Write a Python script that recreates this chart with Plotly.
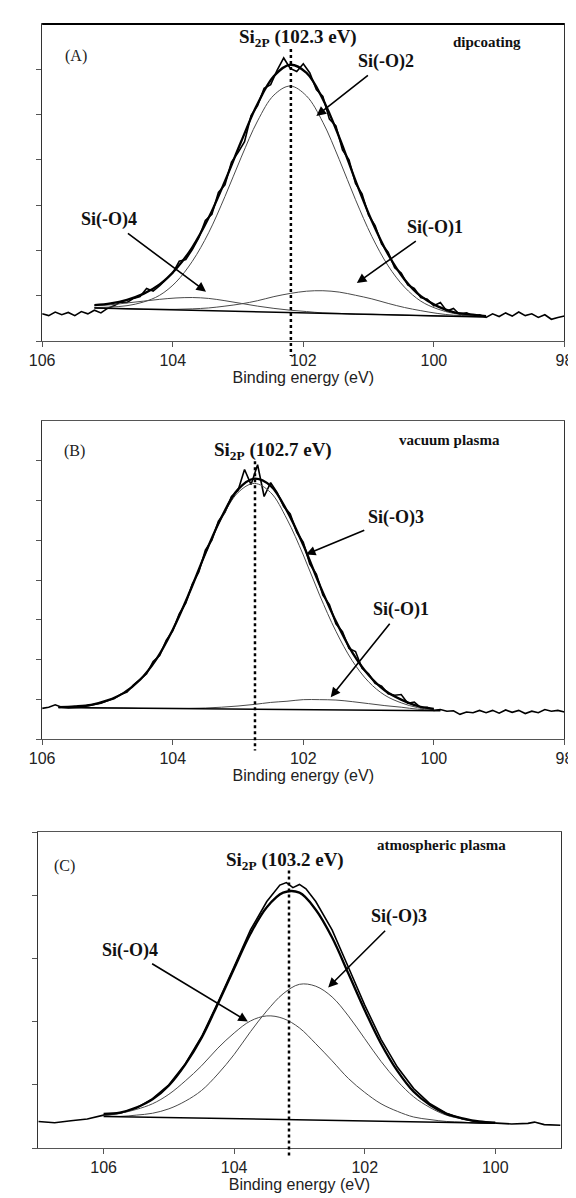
import plotly.graph_objects as go

W, H = 576, 1198

# ---------------- Panel A : dipcoating ----------------
A_grid = [105.2, 104.95, 104.7, 104.45, 104.2, 103.95, 103.7, 103.45, 103.2, 102.95,
          102.7, 102.45, 102.2, 101.95, 101.7, 101.45, 101.2, 100.95, 100.7, 100.45,
          100.2, 99.95, 99.7, 99.45, 99.2]
A_envelope = [0.79, 0.83, 0.91, 1.04, 1.25, 1.59, 2.07, 2.72, 3.53, 4.41,
              5.24, 5.85, 6.10, 5.92, 5.34, 4.50, 3.54, 2.65, 1.91, 1.36,
              0.99, 0.77, 0.64, 0.59, 0.55]
A_si2 = [0.74, 0.75, 0.78, 0.86, 1.01, 1.30, 1.76, 2.39, 3.19, 4.06,
         4.86, 5.43, 5.63, 5.41, 4.83, 4.01, 3.12, 2.31, 1.66, 1.19,
         0.88, 0.71, 0.61, 0.57, 0.54]
A_si4 = [0.78, 0.80, 0.84, 0.88, 0.92, 0.95, 0.96, 0.94, 0.89, 0.83,
         0.77, 0.72, 0.68, 0.65, 0.62, 0.61, 0.59, 0.59, 0.58, 0.57,
         0.56, 0.55, 0.54, 0.54, 0.53]
A_si1 = [0.73, 0.72, 0.71, 0.70, 0.70, 0.70, 0.71, 0.73, 0.77, 0.82,
         0.89, 0.98, 1.05, 1.10, 1.11, 1.08, 1.01, 0.93, 0.83, 0.74,
         0.67, 0.61, 0.57, 0.56, 0.54]
A_base_x = [105.2, 99.2]
A_base_y = [0.73, 0.53]
A_raw = [0.60, 0.56, 0.64, 0.58, 0.63, 0.56, 0.65, 0.60, 0.68, 0.62,
         0.72, 0.78, 0.86, 0.85, 0.94, 0.98, 1.16, 1.10, 1.22, 1.35,
         1.50, 1.76, 1.80, 2.02, 2.28, 2.66, 2.80, 3.28, 3.45, 3.95,
         4.16, 4.40, 4.98, 5.20, 5.58, 5.66, 5.98, 6.25, 6.02, 5.95,
         6.12, 5.92, 5.55, 5.40, 4.90, 4.75, 4.22, 4.00, 3.48, 3.25,
         2.78, 2.55, 2.14, 1.96, 1.62, 1.50, 1.24, 1.16, 0.96, 0.92,
         0.78, 0.85, 0.66, 0.72, 0.58, 0.62, 0.55, 0.58, 0.52, 0.60,
         0.54, 0.62, 0.55, 0.64, 0.56, 0.60, 0.52, 0.58, 0.48, 0.52,
         0.55]

# ---------------- Panel B : vacuum plasma ----------------
B_grid = [105.75, 105.5, 105.25, 105.0, 104.75, 104.5, 104.25, 104.0, 103.75, 103.5,
          103.25, 103.0, 102.75, 102.5, 102.25, 102.0, 101.75, 101.5, 101.25, 101.0,
          100.75, 100.5, 100.25, 100.0]
B_envelope = [0.80, 0.82, 0.86, 0.97, 1.16, 1.49, 2.01, 2.75, 3.66, 4.67,
              5.59, 6.28, 6.55, 6.37, 5.74, 4.88, 3.88, 2.96, 2.18, 1.61,
              1.22, 0.99, 0.83, 0.76]
B_si3 = [0.80, 0.82, 0.86, 0.97, 1.16, 1.49, 2.01, 2.75, 3.65, 4.65,
         5.55, 6.20, 6.43, 6.20, 5.53, 4.63, 3.62, 2.71, 1.97, 1.44,
         1.10, 0.91, 0.79, 0.74]
B_si1 = [0.79, 0.79, 0.78, 0.78, 0.78, 0.77, 0.77, 0.77, 0.77, 0.78,
         0.80, 0.83, 0.87, 0.92, 0.95, 0.99, 0.99, 0.98, 0.94, 0.89,
         0.84, 0.80, 0.75, 0.73]
B_base_x = [105.75, 99.9]
B_base_y = [0.79, 0.71]
B_raw = [0.77, 0.80, 0.86, 0.80, 0.78, 0.79, 0.80, 0.84, 0.87, 0.90,
         0.96, 1.01, 1.12, 1.18, 1.36, 1.50, 1.64, 1.95, 2.10, 2.48,
         2.72, 3.15, 3.42, 3.90, 4.20, 4.75, 5.00, 5.48, 5.70, 6.10,
         6.25, 6.78, 6.40, 6.90, 6.10, 6.45, 6.20, 5.85, 5.66, 5.20,
         4.95, 4.40, 4.15, 3.62, 3.38, 2.90, 2.70, 2.28, 2.20, 1.78,
         1.64, 1.40, 1.33, 1.14, 1.10, 1.12, 0.90, 0.93, 0.79, 0.80,
         0.72, 0.74, 0.70, 0.71, 0.62, 0.68, 0.66, 0.72, 0.66, 0.72,
         0.65, 0.73, 0.67, 0.72, 0.64, 0.70, 0.66, 0.74, 0.70, 0.72,
         0.68]

# ---------------- Panel C : atmospheric plasma ----------------
C_grid = [106.0, 105.75, 105.5, 105.25, 105.0, 104.75, 104.5, 104.25, 104.0, 103.75,
          103.5, 103.25, 103.0, 102.75, 102.5, 102.25, 102.0, 101.75, 101.5, 101.25,
          101.0, 100.75, 100.5, 100.25, 100.0]
C_envelope = [0.54, 0.56, 0.64, 0.77, 0.99, 1.32, 1.74, 2.28, 2.84, 3.39,
              3.81, 4.04, 4.04, 3.77, 3.33, 2.76, 2.18, 1.65, 1.22, 0.89,
              0.68, 0.54, 0.47, 0.42, 0.40]
C_si4 = [0.53, 0.55, 0.61, 0.70, 0.85, 1.06, 1.30, 1.58, 1.82, 2.01,
         2.09, 2.05, 1.90, 1.65, 1.38, 1.10, 0.88, 0.70, 0.58, 0.49,
         0.45, 0.42, 0.41, 0.39, 0.39]
C_si3 = [0.51, 0.50, 0.52, 0.55, 0.62, 0.74, 0.91, 1.17, 1.48, 1.84,
         2.17, 2.44, 2.59, 2.56, 2.39, 2.09, 1.73, 1.37, 1.06, 0.81,
         0.64, 0.52, 0.46, 0.42, 0.40]
C_base_x = [106.0, 100.0]
C_base_y = [0.50, 0.39]
C_raw_x = [107.0, 106.75, 106.5, 106.25, 106.0, 105.75, 105.5, 105.25, 105.0, 104.75,
           104.5, 104.25, 104.0, 103.75, 103.5, 103.3, 103.2, 103.1, 103.0, 102.9,
           102.75, 102.5, 102.25, 102.0, 101.75, 101.5, 101.25, 101.0, 100.75, 100.5,
           100.25, 100.0, 99.75, 99.5, 99.4, 99.25, 99.0]
C_raw = [0.42, 0.40, 0.43, 0.46, 0.52, 0.55, 0.63, 0.78, 1.00, 1.33,
         1.76, 2.30, 2.87, 3.45, 3.90, 4.16, 4.20, 4.12, 4.17, 4.10,
         3.90, 3.45, 2.86, 2.26, 1.72, 1.28, 0.94, 0.70, 0.55, 0.46,
         0.41, 0.39, 0.38, 0.39, 0.41, 0.37, 0.36]

energy_raw = [round(106.0 - 0.1 * i, 1) for i in range(81)]

peak_marker_ev = [102.19, 102.74, 103.16]
titles = ["Si<sub>2P</sub> (102.3 eV)", "Si<sub>2P</sub> (102.7 eV)", "Si<sub>2P</sub> (103.2 eV)"]
methods = ["dipcoating", "vacuum plasma", "atmospheric plasma"]
letters = ["(A)", "(B)", "(C)"]

# layout geometry (pixels)
x_ranges = [[106, 98], [106, 98], [107, 99]]
y_ranges = [[0, 7], [0, 8], [0, 5]]
y_ticks = [[0, 1, 2, 3, 4, 5, 6], [0, 1, 2, 3, 4, 5, 6, 7], [0, 1, 2, 3, 4, 5]]
x_ticks = [[106, 104, 102, 100, 98], [106, 104, 102, 100, 98], [106, 104, 102, 100]]
px_left = [22, 22, 18]
px_right = [565, 565, 561]
px_top = [16, 413, 824]
px_bottom = [333, 731, 1140]

x_domains = [[l / W, r / W] for l, r in zip(px_left, px_right)]
y_domains = [[1 - b / H, 1 - t / H] for t, b in zip(px_top, px_bottom)]

SERIF = "Liberation Serif, Times New Roman, serif"
SANS = "Liberation Sans, Arial, sans-serif"

panels = [
    dict(grid=A_grid, env=A_envelope, comps=[A_si2, A_si4, A_si1], bx=A_base_x, by=A_base_y,
         rx=energy_raw, ry=A_raw),
    dict(grid=B_grid, env=B_envelope, comps=[B_si3, B_si1], bx=B_base_x, by=B_base_y,
         rx=energy_raw, ry=B_raw),
    dict(grid=C_grid, env=C_envelope, comps=[C_si4, C_si3], bx=C_base_x, by=C_base_y,
         rx=C_raw_x, ry=C_raw),
]

# label positions (energy, intensity); each label carries an arrow to its component
labels = [
    dict(letter=(105.48, 6.30), title=(102.08, 6.69), method=(99.18, 6.61),
         comps=[("Si(-O)2", 100.74, 6.17, (101.8, 4.97)),
                ("Si(-O)4", 104.97, 2.68, (103.49, 1.09)),
                ("Si(-O)1", 99.98, 2.51, (101.18, 1.28))],
         dot=(6.45, -0.33)),
    dict(letter=(105.51, 7.24), title=(102.47, 7.24), method=(99.76, 7.51),
         comps=[("Si(-O)3", 100.58, 5.58, (101.96, 4.64)),
                ("Si(-O)1", 100.50, 3.26, (101.58, 1.05))],
         dot=(6.99, -0.29)),
    dict(letter=(106.6, 4.47), title=(103.22, 4.54), method=(100.82, 4.79),
         comps=[("Si(-O)3", 101.47, 3.66, (102.56, 2.54)),
                ("Si(-O)4", 105.6, 3.13, (103.79, 2.0))],
         dot=(4.39, -0.16)),
]


def xp(e, i):
    r, d = x_ranges[i], x_domains[i]
    return d[0] + (r[0] - e) / (r[0] - r[1]) * (d[1] - d[0])


def yp(v, i):
    r, d = y_ranges[i], y_domains[i]
    return d[0] + (v - r[0]) / (r[1] - r[0]) * (d[1] - d[0])


fig = go.Figure()
annotations = []
shapes = []
layout_axes = {}

for i, p in enumerate(panels):
    sfx = "" if i == 0 else str(i + 1)
    xa, ya = "x" + sfx, "y" + sfx
    # raw spectrum
    fig.add_trace(go.Scatter(x=p["rx"], y=p["ry"], mode="lines", xaxis=xa, yaxis=ya,
                             line=dict(color="black", width=1.6), showlegend=False))
    # components
    for comp in p["comps"]:
        fig.add_trace(go.Scatter(x=p["grid"], y=comp, mode="lines", xaxis=xa, yaxis=ya,
                                 line=dict(color="#4a4a4a", width=1, shape="spline"),
                                 showlegend=False))
    # background
    fig.add_trace(go.Scatter(x=p["bx"], y=p["by"], mode="lines", xaxis=xa, yaxis=ya,
                             line=dict(color="black", width=1.5), showlegend=False))
    # envelope
    fig.add_trace(go.Scatter(x=p["grid"], y=p["env"], mode="lines", xaxis=xa, yaxis=ya,
                             line=dict(color="black", width=2.3, shape="spline"),
                             showlegend=False))

    layout_axes["xaxis" + sfx] = dict(
        domain=x_domains[i], range=x_ranges[i], anchor=ya, tickmode="array",
        tickvals=x_ticks[i], ticktext=[str(t) for t in x_ticks[i]],
        ticks="outside", ticklen=5, tickcolor="#555", showline=True, linecolor="#555",
        linewidth=1.2, mirror=True, showgrid=False, zeroline=False,
        tickfont=dict(family=SANS, size=16, color="#222"),
        title=dict(text="Binding energy (eV)", font=dict(family=SANS, size=16, color="#222"),
                   standoff=3))
    layout_axes["yaxis" + sfx] = dict(
        domain=y_domains[i], range=y_ranges[i], anchor=xa, tickmode="array",
        tickvals=y_ticks[i], showticklabels=False, ticks="outside", ticklen=5,
        tickcolor="#555", showline=True, linecolor="#333", linewidth=1.2, mirror=True,
        showgrid=False, zeroline=False)

    lb = labels[i]
    annotations.append(dict(x=lb["letter"][0], y=lb["letter"][1], xref=xa, yref=ya,
                            text=letters[i], showarrow=False,
                            font=dict(family=SERIF, size=16, color="#222")))
    annotations.append(dict(x=lb["title"][0], y=lb["title"][1], xref=xa, yref=ya,
                            text="<b>" + titles[i] + "</b>", showarrow=False,
                            font=dict(family=SERIF, size=19, color="#111")))
    annotations.append(dict(x=lb["method"][0], y=lb["method"][1], xref=xa, yref=ya,
                            text="<b>" + methods[i] + "</b>", showarrow=False,
                            font=dict(family=SERIF, size=15, color="#111")))
    for name, tx, ty, head in lb["comps"]:
        annotations.append(dict(x=head[0], y=head[1], ax=tx, ay=ty, xref=xa, yref=ya,
                                axref=xa, ayref=ya, text="<b>" + name + "</b>",
                                showarrow=True, arrowhead=2, arrowsize=1.2, arrowwidth=1.6,
                                arrowcolor="black", standoff=0, startstandoff=3,
                                font=dict(family=SERIF, size=18, color="#111")))
    xpos = xp(peak_marker_ev[i], i)
    shapes.append(dict(type="line", xref="paper", yref="paper", x0=xpos, x1=xpos,
                       y0=yp(lb["dot"][0], i), y1=yp(lb["dot"][1], i),
                       line=dict(color="black", width=2.5, dash="dot")))

# heavier top frame edge of panel A
shapes.append(dict(type="line", xref="paper", yref="paper",
                   x0=x_domains[0][0], x1=x_domains[0][1],
                   y0=y_domains[0][1], y1=y_domains[0][1],
                   line=dict(color="black", width=2)))

fig.update_layout(width=W, height=H, margin=dict(l=0, r=0, t=0, b=0),
                  paper_bgcolor="white", plot_bgcolor="white", showlegend=False,
                  annotations=annotations, shapes=shapes, **layout_axes)

fig.write_html("out.html")
